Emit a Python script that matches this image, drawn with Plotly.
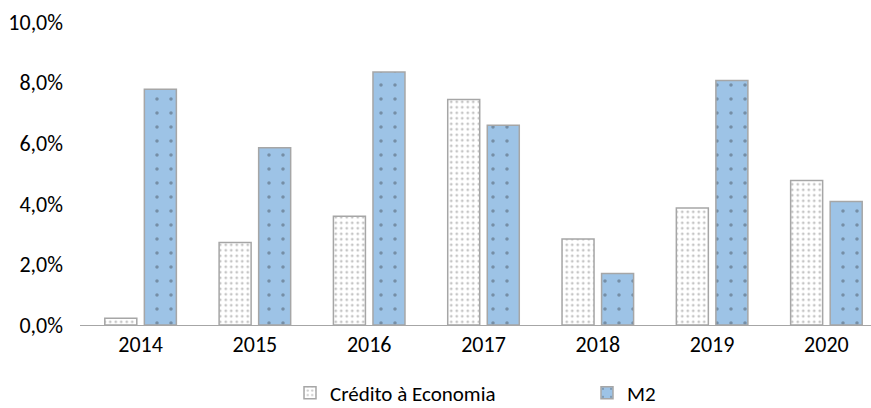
import plotly.graph_objects as go

years = ["2014", "2015", "2016", "2017", "2018", "2019", "2020"]
credito = [0.22, 2.72, 3.59, 7.44, 2.84, 3.86, 4.77]
m2 = [7.78, 5.85, 8.35, 6.59, 1.70, 8.07, 4.08]
yticks = [0, 2, 4, 6, 8, 10]
ytick_text = ["0,0%", "2,0%", "4,0%", "6,0%", "8,0%", "10,0%"]

FONT = "Carlito, Calibri, 'Liberation Sans Narrow', 'Liberation Sans', sans-serif"
fig = go.Figure()
fig.add_trace(go.Bar(
    x=years, y=credito, name="Crédito à Economia",
    width=0.28, offset=-0.313,
    marker=dict(color="white", line=dict(color="#A6A6A6", width=1.5),
                pattern=dict(shape=".", fgcolor="#8C8C8C", bgcolor="white", size=5.5, solidity=0.2)),
))
fig.add_trace(go.Bar(
    x=years, y=m2, name="M2",
    width=0.28, offset=0.033,
    marker=dict(color="#9DC3E6", line=dict(color="#A6A6A6", width=1.5),
                pattern=dict(shape=".", fgcolor="#4D5A66", bgcolor="#9DC3E6", size=14, solidity=0.05)),
))
fig.update_layout(
    width=871, height=408, barmode="overlay",
    margin=dict(l=80, r=0, t=22, b=83, autoexpand=False),
    plot_bgcolor="white", paper_bgcolor="white",
    font=dict(family=FONT, size=22, color="#000000"),
    xaxis=dict(type="category", range=[-0.53, 6.39], showline=True, linecolor="#A6A6A6",
               linewidth=1, ticks="", showgrid=False, tickfont=dict(size=22)),
    yaxis=dict(range=[0, 10], tickvals=yticks, ticktext=ytick_text, showgrid=False,
               zeroline=False, showline=False, ticks="", ticklabelstandoff=16,
               tickfont=dict(size=22)),
    legend=dict(orientation="h", x=(290 - 80) / 791, xanchor="left", y=-0.225, yanchor="middle",
                font=dict(size=21), itemwidth=30, entrywidth=252, traceorder="normal"),
)
fig.write_html("out.html", config={"displayModeBar": False},
               post_script="document.body.style.margin='0px';")
